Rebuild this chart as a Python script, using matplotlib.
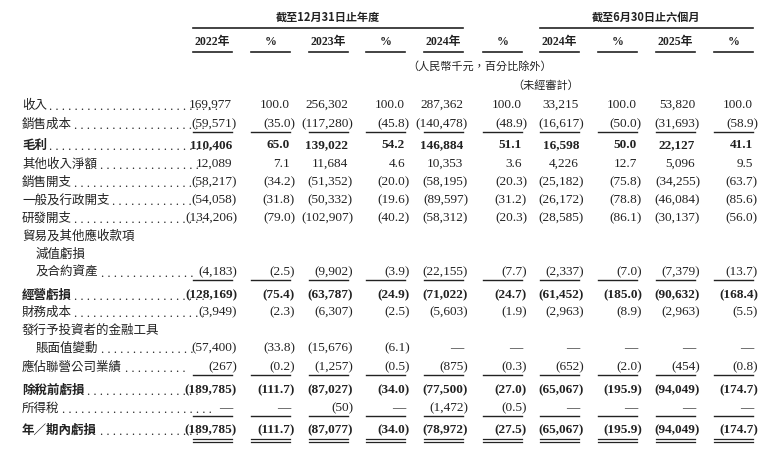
import matplotlib
matplotlib.use("Agg")
import matplotlib.pyplot as plt

CJK = ['Noto Sans CJK TC', 'DejaVu Sans']
NUM = ['Liberation Serif', 'DejaVu Serif']

group_titles = ["截至12月31日止年度", "截至6月30日止六個月"]
col_headers = ["2022年", "%", "2023年", "%", "2024年", "%", "2024年", "%", "2025年", "%"]
unit_note = "（人民幣千元，百分比除外）"
unaudited_note = "（未經審計）"

labels = ["收入", "銷售成本", "毛利", "其他收入淨額", "銷售開支", "一般及行政開支", "研發開支",
          "貿易及其他應收款項", "減值虧損", "及合約資產", "經營虧損", "財務成本",
          "發行予投資者的金融工具", "賬面值變動", "應佔聯營公司業績", "除稅前虧損", "所得稅", "年／期內虧損"]
indent = [0, 0, 0, 0, 0, 0, 0, 0, 1, 1, 0, 0, 0, 1, 0, 0, 0, 0]
bold = [False, False, True, False, False, False, False, False, False, False, True, False, False, False, False, True, False, True]
D = "—"
values = [
    ["169,977", "100.0", "256,302", "100.0", "287,362", "100.0", "33,215", "100.0", "53,820", "100.0"],
    ["(59,571)", "(35.0)", "(117,280)", "(45.8)", "(140,478)", "(48.9)", "(16,617)", "(50.0)", "(31,693)", "(58.9)"],
    ["110,406", "65.0", "139,022", "54.2", "146,884", "51.1", "16,598", "50.0", "22,127", "41.1"],
    ["12,089", "7.1", "11,684", "4.6", "10,353", "3.6", "4,226", "12.7", "5,096", "9.5"],
    ["(58,217)", "(34.2)", "(51,352)", "(20.0)", "(58,195)", "(20.3)", "(25,182)", "(75.8)", "(34,255)", "(63.7)"],
    ["(54,058)", "(31.8)", "(50,332)", "(19.6)", "(89,597)", "(31.2)", "(26,172)", "(78.8)", "(46,084)", "(85.6)"],
    ["(134,206)", "(79.0)", "(102,907)", "(40.2)", "(58,312)", "(20.3)", "(28,585)", "(86.1)", "(30,137)", "(56.0)"],
    None,
    None,
    ["(4,183)", "(2.5)", "(9,902)", "(3.9)", "(22,155)", "(7.7)", "(2,337)", "(7.0)", "(7,379)", "(13.7)"],
    ["(128,169)", "(75.4)", "(63,787)", "(24.9)", "(71,022)", "(24.7)", "(61,452)", "(185.0)", "(90,632)", "(168.4)"],
    ["(3,949)", "(2.3)", "(6,307)", "(2.5)", "(5,603)", "(1.9)", "(2,963)", "(8.9)", "(2,963)", "(5.5)"],
    None,
    ["(57,400)", "(33.8)", "(15,676)", "(6.1)", D, D, D, D, D, D],
    ["(267)", "(0.2)", "(1,257)", "(0.5)", "(875)", "(0.3)", "(652)", "(2.0)", "(454)", "(0.8)"],
    ["(189,785)", "(111.7)", "(87,027)", "(34.0)", "(77,500)", "(27.0)", "(65,067)", "(195.9)", "(94,049)", "(174.7)"],
    [D, D, "(50)", D, "(1,472)", "(0.5)", D, D, D, D],
    ["(189,785)", "(111.7)", "(87,077)", "(34.0)", "(78,972)", "(27.5)", "(65,067)", "(195.9)", "(94,049)", "(174.7)"],
]

row_y = [105, 124, 145, 164, 182, 200, 218, 236, 254, 272, 295, 312, 330, 348, 367, 390, 408, 430]
col_right = [232, 290, 348, 405, 463, 522, 579, 637, 695, 753]
col_w = 39
single_lines_after = [1, 9, 14, 16]

fig = plt.figure(figsize=(7.68, 4.52), dpi=100)
ax = fig.add_axes([0, 0, 1, 1])
ax.set_xlim(0, 768)
ax.set_ylim(452, 0)
ax.axis("off")

fs = 9
tc = "#222222"
ax.text(328, 17, group_titles[0], ha="center", va="center", fontsize=8, family=CJK, weight="bold", color=tc)
ax.text(646, 17, group_titles[1], ha="center", va="center", fontsize=8, family=CJK, weight="bold", color=tc)
ax.plot([193, 463], [29, 29], color=tc, lw=1.2)
ax.plot([540, 753], [29, 29], color=tc, lw=1.2)
for i, h in enumerate(col_headers):
    cx = col_right[i] - col_w / 2
    ax.text(cx, 42, h, ha="center", va="center", fontsize=8.5, family=NUM + CJK[:1], weight="bold", color=tc)
    ax.plot([col_right[i] - col_w, col_right[i]], [53, 53], color=tc, lw=1.2)
ax.text(480, 66, unit_note, ha="center", va="center", fontsize=8, family=CJK, style="italic", color=tc)
ax.text(546, 86, unaudited_note, ha="center", va="center", fontsize=8, family=CJK, style="italic", color=tc)

char_w = 12.6
for r, lab in enumerate(labels):
    y = row_y[r]
    x0 = 22 + 14 * indent[r]
    w = "bold" if bold[r] else "normal"
    ax.text(x0, y, lab, ha="left", va="center", fontsize=fs, family=CJK, weight=w, color=tc)
    if values[r] is not None:
        start = x0 + len(lab) * char_w + 2
        n = max(int((172 - start) / 4.5), 1)
        ax.text(start, y + 2, ". " * n, ha="left", va="center", fontsize=fs, family=NUM, color=tc)
        for c, v in enumerate(values[r]):
            xr = col_right[c] + (5 if v.endswith(")") else 0)
            ax.text(xr, y, v, ha="right", va="center", fontsize=fs + 0.5, family=NUM + CJK[:1], weight=w, color=tc)
    if r in single_lines_after:
        for c in range(10):
            ax.plot([col_right[c] - col_w, col_right[c]], [y + 9, y + 9], color=tc, lw=1.0)
for c in range(10):
    for dy in (10, 13):
        ax.plot([col_right[c] - col_w, col_right[c]], [row_y[-1] + dy] * 2, color=tc, lw=0.9)

fig.savefig("out.png", dpi=100)
